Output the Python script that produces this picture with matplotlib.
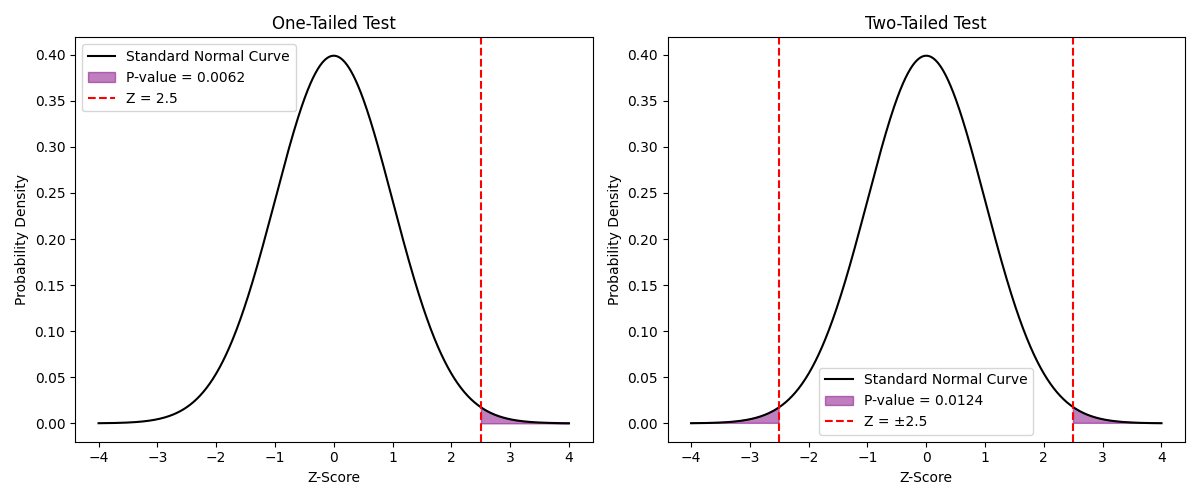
import numpy as np
import matplotlib.pyplot as plt

# Standard normal distribution parameters
mean = 0.0
std_dev = 1.0
z_range = (-4, 4)
n_points = 1000

# Test values
z_crit = 2.5
p_one_tailed = 0.0062
p_two_tailed = 0.0124

x = np.linspace(z_range[0], z_range[1], n_points)
y = np.exp(-0.5 * ((x - mean) / std_dev) ** 2) / (std_dev * np.sqrt(2 * np.pi))

fig, (ax1, ax2) = plt.subplots(1, 2, figsize=(12, 5), dpi=100)

# One-tailed
ax1.plot(x, y, color='black', label='Standard Normal Curve')
ax1.fill_between(x, y, where=(x >= z_crit), color='purple', alpha=0.5,
                 label=f'P-value = {p_one_tailed:.4f}')
ax1.axvline(z_crit, color='red', linestyle='--', label=f'Z = {z_crit}')
ax1.set_title('One-Tailed Test')
ax1.set_xlabel('Z-Score')
ax1.set_ylabel('Probability Density')
ax1.legend(loc='upper left')

# Two-tailed
ax2.plot(x, y, color='black', label='Standard Normal Curve')
ax2.fill_between(x, y, where=(np.abs(x) >= z_crit), color='purple', alpha=0.5,
                 label=f'P-value = {p_two_tailed:.4f}')
ax2.axvline(z_crit, color='red', linestyle='--', label=f'Z = ±{z_crit}')
ax2.axvline(-z_crit, color='red', linestyle='--')
ax2.set_title('Two-Tailed Test')
ax2.set_xlabel('Z-Score')
ax2.set_ylabel('Probability Density')
ax2.legend(loc='lower center')

plt.tight_layout()
plt.savefig('out.png')
